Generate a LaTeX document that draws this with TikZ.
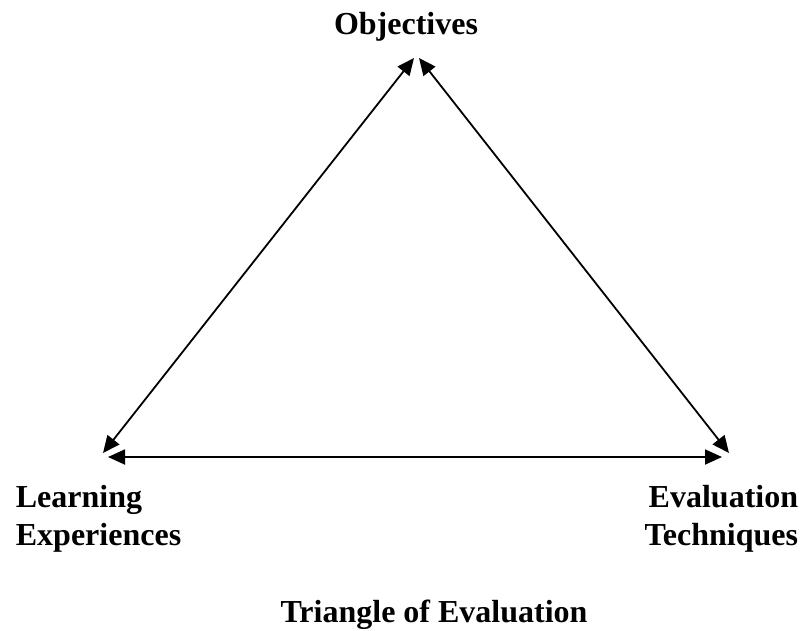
\documentclass[tikz,border=0pt]{standalone}
\usepackage{fontspec}
\setmainfont{Liberation Serif}
\usetikzlibrary{arrows.meta}

\begin{document}
\begin{tikzpicture}[x=1pt,y=-1pt,<->,>={Triangle[length=17pt,width=15pt]},line width=1.8pt,
    label/.style={font=\fontsize{32}{38}\selectfont\bfseries,inner sep=0pt}]

    \useasboundingbox (0,0) rectangle (803,630);

    \node[label,anchor=base]            (obj)   at (406,34)  {Objectives};
    \node[label,anchor=base west,align=left]  (learn) at (15,545)  {Learning\\Experiences};
    \node[label,anchor=base east,align=right] (eval)  at (799,545) {Evaluation\\Techniques};
    \node[label,anchor=base]            (title) at (434,622) {Triangle of Evaluation};

    \coordinate (topL)  at (414,58);
    \coordinate (topR)  at (419,58);
    \coordinate (leftD) at (103,453);
    \coordinate (leftH) at (108,457);
    \coordinate (rightD) at (729,453);
    \coordinate (rightH) at (722,457);

    \path       (leftD) edge (topL)
                (topR)  edge (rightD)
                (leftH) edge (rightH);
  \end{tikzpicture}
\end{document}
